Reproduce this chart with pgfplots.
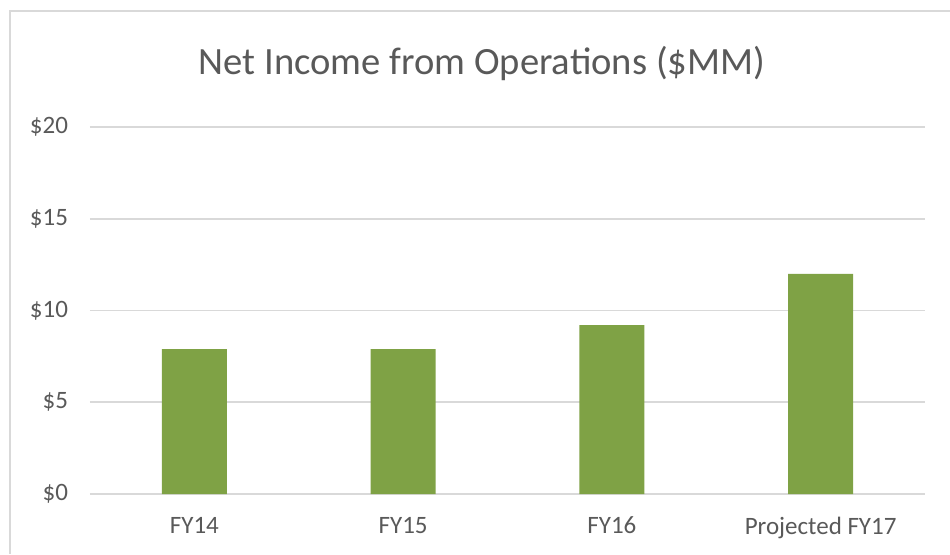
\documentclass[border=0pt]{standalone}
\usepackage{fontspec}
\setmainfont{Carlito}
\usepackage{pgfplots}
\pgfplotsset{compat=1.18}
\definecolor{bargreen}{RGB}{127,162,69}
\definecolor{gridgray}{RGB}{217,217,217}
\definecolor{txtgray}{RGB}{89,89,89}
\begin{document}
\begin{tikzpicture}
\useasboundingbox (0,0) rectangle (475pt,277pt);
\draw[gridgray, line width=0.6pt] (5pt,0) -- (5pt,271.5pt) -- (475pt,271.5pt);
\node[txtgray, font=\fontsize{19.3}{23}\selectfont] at (241pt,245.5pt) {Net Income from Operations (\$MM)};
\begin{axis}[
    at={(45pt,30pt)}, anchor=south west,
    scale only axis, width=417.5pt, height=183.5pt,
    xmin=-0.5, xmax=3.5, ymin=0, ymax=20,
    xtick={0,1,2,3},
    xticklabels={FY14, FY15, FY16, Projected FY17},
    ytick={0,5,10,15,20},
    yticklabel={\$\pgfmathprintnumber{\tick}},
    /pgf/number format/assume math mode=true,
    axis line style={draw=none},
    major tick length=0pt,
    ymajorgrids, grid style={gridgray, line width=0.8pt},
    tick label style={txtgray, font=\fontsize{12.5}{15}\selectfont},
    yticklabel style={xshift=-7.5pt},
    xticklabel style={yshift=-8pt},
    clip=false,
]
\addplot[ybar, bar width=32.5pt, fill=bargreen, draw=none]
    coordinates {(0,7.9) (1,7.9) (2,9.2) (3,12.0)};
\end{axis}
\end{tikzpicture}
\end{document}
